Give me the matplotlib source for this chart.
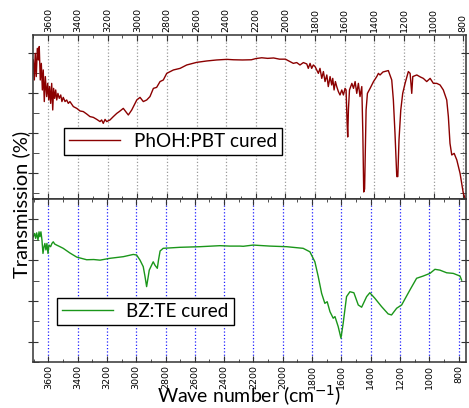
import matplotlib
matplotlib.use("Agg")
import matplotlib.pyplot as plt
from matplotlib.ticker import MultipleLocator

# FTIR spectra (wavenumber cm-1, transmission %)
pbt_wn = [3701, 3694, 3688, 3681, 3674, 3667, 3661, 3654, 3647, 3640, 3634, 3627, 3620,
          3611, 3604, 3597, 3591, 3584, 3577, 3570, 3564, 3557, 3550, 3543, 3535, 3526,
          3516, 3508, 3499, 3487, 3476, 3465, 3454, 3431, 3408, 3386, 3364, 3341, 3319,
          3296, 3273, 3251, 3240, 3229, 3217, 3206, 3184, 3161, 3138, 3121, 3094, 3060,
          3037, 3003, 2981, 2959, 2936, 2914, 2891, 2869, 2846, 2824, 2801, 2756, 2711,
          2666, 2599, 2531, 2464, 2396, 2350, 2290, 2230, 2200, 2160, 2120, 2080, 2040,
          2000, 1970, 1947, 1924, 1902, 1879, 1856, 1846, 1834, 1823, 1812, 1800, 1789,
          1778, 1767, 1755, 1744, 1733, 1721, 1711, 1699, 1688, 1681, 1672, 1663, 1654,
          1643, 1632, 1620, 1609, 1598, 1591, 1584, 1580, 1575, 1568, 1552, 1541, 1530,
          1519, 1508, 1497, 1485, 1478, 1472, 1466, 1460, 1456, 1447, 1429, 1406, 1384,
          1373, 1362, 1342, 1306, 1283, 1272, 1261, 1249, 1242, 1234, 1222, 1209, 1193,
          1171, 1159, 1148, 1141, 1114, 1090, 1070, 1047, 1024, 1002, 979, 957, 935, 912,
          901, 890, 878, 862, 844, 822, 800, 782]
pbt_tr = [76.5, 66.5, 79.8, 68.2, 82.3, 76.5, 83.2, 66.5, 74.8, 61.5, 71.5, 55.7, 68.2,
          58.2, 64.8, 56.5, 63.2, 54.8, 64.8, 51.5, 62.3, 57.3, 61.5, 56.5, 59.8, 57.3,
          59.0, 55.7, 57.8, 55.7, 56.5, 54.8, 55.7, 53.2, 52.3, 51.0, 50.7, 49.5, 48.2,
          47.8, 46.8, 45.7, 46.5, 44.8, 46.8, 45.7, 46.5, 48.2, 49.8, 50.7, 52.3, 49.0,
          51.5, 56.5, 57.8, 55.7, 56.5, 58.2, 62.3, 62.8, 65.7, 66.5, 69.8, 71.5, 72.3,
          74.0, 75.3, 76.0, 76.5, 76.8, 76.6, 76.5, 76.6, 77.2, 77.6, 77.3, 77.5, 76.9,
          76.9, 75.7, 74.8, 75.2, 74.0, 75.2, 74.5, 72.3, 74.8, 72.3, 74.0, 73.2, 71.5,
          69.8, 72.3, 67.3, 70.7, 65.7, 69.0, 63.2, 68.2, 64.0, 67.3, 61.5, 65.7, 63.2,
          60.7, 59.0, 61.5, 59.0, 62.3, 61.5, 45.0, 38.0, 52.0, 61.5, 64.8, 62.3, 65.7,
          59.8, 64.8, 58.2, 63.2, 40.0, 10.5, 12.0, 35.0, 51.5, 59.8, 62.3, 65.7, 68.2,
          69.8, 69.0, 70.5, 71.2, 66.5, 56.5, 39.8, 18.2, 18.2, 36.5, 51.5, 59.8, 64.8,
          70.7, 69.8, 59.8, 68.2, 69.0, 68.0, 67.3, 65.7, 67.3, 64.8, 64.8, 64.0, 61.5,
          56.5, 48.2, 34.8, 29.0, 29.8, 26.5, 19.8, 9.8, 6.0]

bz_wn = [3702, 3693, 3686, 3679, 3670, 3663, 3657, 3650, 3643, 3636, 3629, 3623, 3616,
         3609, 3602, 3595, 3584, 3575, 3566, 3556, 3543, 3520, 3498, 3452, 3406, 3338,
         3290, 3247, 3179, 3088, 3020, 2997, 2974, 2952, 2940, 2929, 2920, 2911, 2884,
         2872, 2856, 2848, 2837, 2816, 2702, 2565, 2429, 2361, 2292, 2270, 2202, 2088,
         1974, 1861, 1815, 1781, 1758, 1735, 1713, 1697, 1678, 1656, 1644, 1622, 1603,
         1588, 1565, 1542, 1515, 1485, 1462, 1428, 1406, 1372, 1326, 1281, 1258, 1223,
         1189, 1133, 1087, 1042, 996, 962, 928, 882, 837, 791, 780]
bz_tr = [71.5, 73.1, 70.7, 73.4, 69.9, 73.9, 71.5, 73.9, 69.9, 63.3, 66.6, 68.2, 65.0,
         68.2, 63.3, 67.4, 66.6, 68.2, 69.0, 67.9, 67.4, 66.6, 65.8, 63.5, 61.5, 60.2,
         60.3, 60.0, 60.9, 61.7, 62.8, 62.5, 60.0, 56.8, 52.0, 47.0, 51.0, 55.1, 59.2,
         57.5, 56.0, 60.0, 64.5, 65.8, 66.3, 66.6, 67.1, 66.9, 66.9, 66.8, 67.4, 66.9,
         66.6, 65.8, 64.1, 59.2, 51.9, 43.7, 38.8, 39.6, 34.7, 31.5, 32.3, 27.4, 21.7,
         29.0, 42.1, 44.5, 44.0, 38.0, 36.9, 42.1, 44.0, 41.3, 37.2, 33.6, 33.1, 36.4,
         38.0, 45.3, 51.1, 52.2, 53.5, 55.5, 55.1, 53.8, 53.5, 52.2, 50.2]

labels = ["PhOH:PBT cured", "BZ:TE cured"]

fig = plt.figure(figsize=(4.69, 4.08), dpi=100)
ax1 = fig.add_axes([0.0704, 0.5123, 0.9232, 0.402])
ax2 = fig.add_axes([0.0704, 0.1127, 0.9232, 0.3995])

ax1.plot(pbt_wn, pbt_tr, color="#8b0000", linewidth=1.0, label=labels[0])
ax2.plot(bz_wn, bz_tr, color="#1a961a", linewidth=1.0, label=labels[1])

ax1.set_xlim(3703, 782)
ax1.set_ylim(7, 89)
ax2.set_xlim(3704, 750)
ax2.set_ylim(10, 90)

for ax, gcol in [(ax1, "#9a9a9a"), (ax2, "#2020ff")]:
    ax.xaxis.set_major_locator(MultipleLocator(200))
    ax.xaxis.set_minor_locator(MultipleLocator(100))
    ax.yaxis.set_major_locator(MultipleLocator(20))
    ax.yaxis.set_minor_locator(MultipleLocator(10))
    ax.grid(True, which="major", axis="x", color=gcol, linestyle=":", linewidth=0.9)
    ax.tick_params(axis="both", which="both", top=True, bottom=True, left=True,
                   right=True, direction="in", colors="#333333", labelleft=False)
    ax.tick_params(axis="x", which="major", length=4, labelsize=6.8, labelrotation=90,
                   labelcolor="black", pad=2)
    ax.tick_params(axis="x", which="minor", length=2.5)
    ax.tick_params(axis="y", which="major", direction="inout", length=7)
    ax.tick_params(axis="y", which="minor", length=4)
    for s in ax.spines.values():
        s.set_linewidth(1.1)
        s.set_color("#333333")

ax1.tick_params(axis="x", labeltop=True, labelbottom=False)
ax2.tick_params(axis="x", labeltop=False, labelbottom=True)

leg_font = {"family": "Lato", "size": 13.6}
for ax, pos in [(ax1, (0.072, 0.35)), (ax2, (0.055, 0.31))]:
    leg = ax.legend(loc="center left", bbox_to_anchor=pos, prop=leg_font, fancybox=False,
                    edgecolor="black", framealpha=1, handlelength=2.7, handletextpad=0.7,
                    borderpad=0.28, borderaxespad=0)
    leg.get_frame().set_linewidth(1.0)

fig.text(0.045, 0.5, "Transmission (%)", rotation=90, ha="center", va="center",
         family="Lato", size=14.5)
fig.text(0.53, 0.0, "Wave number (cm$^{-1}$)", ha="center", va="bottom",
         family="Lato", size=14)

plt.savefig("out.png", dpi=100)
